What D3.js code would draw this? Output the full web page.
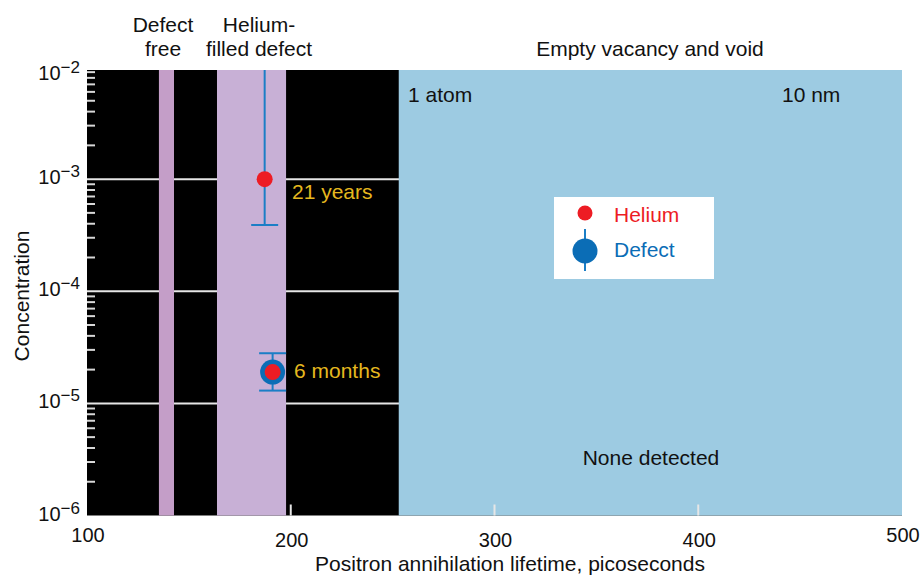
<!DOCTYPE html>
<html>
<head>
<meta charset="utf-8">
<script src="https://cdn.jsdelivr.net/npm/d3@7"></script>
<style>
html,body{margin:0;padding:0;background:#fff;}
svg{display:block;font-family:"Liberation Sans",Arial,sans-serif;}
</style>
</head>
<body>
<svg id="chart" width="923" height="576"></svg>
<script>
// ---- data ----
const xTicks = [100, 200, 300, 400, 500];
const yDecades = [-2, -3, -4, -5, -6];
// regions along lifetime axis (ps)
const regionNames = ["Defect free", "Helium-filled defect", "Empty vacancy and void"];
const regionStart = [135.3, 163.8, 253];
const regionEnd = [142.7, 197.7, 500];
// measured points
const pointLabels = ["21 years", "6 months"];
const heliumX = [187.2, 191.1];
const heliumY = [1.0e-3, 1.9e-5];
const defectX = [187.2, 191.1];
const defectY = [null, 1.9e-5];
const errLow = [3.9e-4, 1.3e-5];
const errHigh = [1.0e-2, 2.8e-5];
const legendItems = ["Helium", "Defect"];

// ---- layout ----
const svg = d3.select("#chart");
const plotLeft = 87, plotRight = 902, plotTop = 70, plotBottom = 515.5;
const x = d3.scaleLinear().domain([100, 500]).range([plotLeft, plotRight]);
const y = d3.scaleLog().domain([1e-6, 1e-2]).range([515.5, 67]);

const red = "#ed1c24", blue = "#0b6db6", errBlue = "#1b7ec6", gold = "#e5b81f";
const regionColors = ["#c49ec8", "#c8b0d6", "#9dcbe2"];
const FS = 21, TFS = 20;

// background
svg.append("rect").attr("x", plotLeft).attr("y", plotTop)
  .attr("width", plotRight - plotLeft).attr("height", plotBottom - plotTop)
  .attr("fill", "#000");

// grid lines at decades
const g = svg.append("g");
yDecades.slice(1, 4).forEach(d => {
  g.append("line").attr("x1", plotLeft).attr("x2", plotRight)
    .attr("y1", y(Math.pow(10, d))).attr("y2", y(Math.pow(10, d)))
    .attr("stroke", "#e6e6e6").attr("stroke-width", 2);
});

// minor ticks
const minor = [];
[-3, -4, -5, -6].forEach(d => {
  for (let m = 2; m <= 9; m++) minor.push(m * Math.pow(10, d));
});
g.selectAll("line.minor").data(minor).join("line").attr("class", "minor")
  .attr("x1", plotLeft).attr("x2", plotLeft + 8)
  .attr("y1", d => y(d)).attr("y2", d => y(d))
  .attr("stroke", "#d8d8d8").attr("stroke-width", 2);

// region bands
svg.selectAll("rect.band").data(regionNames).join("rect").attr("class", "band")
  .attr("x", (d, i) => x(regionStart[i]))
  .attr("width", (d, i) => x(regionEnd[i]) - x(regionStart[i]))
  .attr("y", plotTop).attr("height", plotBottom - plotTop)
  .attr("fill", (d, i) => regionColors[i]);

// bottom x ticks inside plot
svg.selectAll("line.xt").data(xTicks.slice(1, 4)).join("line").attr("class", "xt")
  .attr("x1", d => x(d)).attr("x2", d => x(d))
  .attr("y1", plotBottom).attr("y2", plotBottom - 11)
  .attr("stroke", "#e6e6e6").attr("stroke-width", 2);

// x tick labels
svg.selectAll("text.xl").data(xTicks).join("text").attr("class", "xl")
  .attr("x", d => x(d) + 1)
  .attr("y", (d, i) => (i === 0 || i === xTicks.length - 1) ? 542 : 547)
  .attr("text-anchor", "middle").attr("font-size", TFS).attr("fill", "#111")
  .text(d => d);

// y tick labels
yDecades.forEach(d => {
  const t = svg.append("text").attr("x", 80).attr("y", Math.max(y(Math.pow(10, d)) + 5, 80))
    .attr("text-anchor", "end").attr("font-size", TFS).attr("fill", "#111");
  t.append("tspan").text("10");
  t.append("tspan").attr("dy", -7).attr("font-size", 17).text("\u2212" + Math.abs(d));
});

// axis titles
svg.append("text").attr("x", 510).attr("y", 571).attr("text-anchor", "middle")
  .attr("font-size", FS).attr("fill", "#111")
  .text("Positron annihilation lifetime, picoseconds");
svg.append("text").attr("transform", "translate(29,296) rotate(-90)")
  .attr("text-anchor", "middle").attr("font-size", FS).attr("fill", "#111")
  .text("Concentration");

// region headers
const hdr = [
  { lines: ["Defect", "free"], cx: 163 },
  { lines: ["Helium-", "filled defect"], cx: 259 },
  { lines: ["Empty vacancy and void"], cx: 650 }
];
hdr.forEach(h => {
  const n = h.lines.length;
  h.lines.forEach((l, i) => {
    svg.append("text").attr("x", h.cx).attr("y", 56 - (n - 1 - i) * 24)
      .attr("text-anchor", "middle").attr("font-size", FS).attr("fill", "#111").text(l);
  });
});

// annotations in blue region
svg.append("text").attr("x", 408).attr("y", 102).attr("font-size", FS).attr("fill", "#111").text("1 atom");
svg.append("text").attr("x", 782).attr("y", 102).attr("font-size", FS).attr("fill", "#111").text("10 nm");
svg.append("text").attr("x", 651).attr("y", 465).attr("text-anchor", "middle")
  .attr("font-size", FS).attr("fill", "#111").text("None detected");

// error bars
const clipTop = plotTop;
pointLabels.forEach((lab, i) => {
  const px = x(defectX[i]);
  const yTop = Math.max(y(errHigh[i]), clipTop);
  svg.append("line").attr("x1", px).attr("x2", px)
    .attr("y1", yTop).attr("y2", y(errLow[i]))
    .attr("stroke", errBlue).attr("stroke-width", 2);
  svg.append("line").attr("x1", px - 13.5).attr("x2", px + 13.5)
    .attr("y1", y(errLow[i])).attr("y2", y(errLow[i]))
    .attr("stroke", errBlue).attr("stroke-width", 2);
  if (y(errHigh[i]) > clipTop) {
    svg.append("line").attr("x1", px - 13.5).attr("x2", px + 13.5)
      .attr("y1", y(errHigh[i])).attr("y2", y(errHigh[i]))
      .attr("stroke", errBlue).attr("stroke-width", 2);
  }
});

// defect points
svg.selectAll("circle.def").data(defectY.map((v, i) => ({ v, i })).filter(d => d.v !== null))
  .join("circle").attr("class", "def")
  .attr("cx", d => x(defectX[d.i])).attr("cy", d => y(d.v)).attr("r", 12.5)
  .attr("fill", blue);

// helium points
svg.selectAll("circle.he").data(heliumY).join("circle").attr("class", "he")
  .attr("cx", (d, i) => x(heliumX[i])).attr("cy", d => y(d)).attr("r", 8)
  .attr("fill", red);

// point labels
svg.selectAll("text.pl").data(pointLabels).join("text").attr("class", "pl")
  .attr("x", (d, i) => i === 0 ? 292 : 294)
  .attr("y", (d, i) => i === 0 ? 199 : 378)
  .attr("font-size", FS).attr("fill", gold).text(d => d);

// legend
const lg = svg.append("g");
lg.append("rect").attr("x", 554).attr("y", 197).attr("width", 160).attr("height", 82).attr("fill", "#fff");
lg.append("circle").attr("cx", 585).attr("cy", 213).attr("r", 7.5).attr("fill", red);
lg.append("line").attr("x1", 585).attr("x2", 585).attr("y1", 229).attr("y2", 271)
  .attr("stroke", errBlue).attr("stroke-width", 2);
lg.append("circle").attr("cx", 585).attr("cy", 251).attr("r", 12.5).attr("fill", blue);
lg.append("text").attr("x", 614).attr("y", 222).attr("font-size", FS).attr("fill", red).text(legendItems[0]);
lg.append("text").attr("x", 614).attr("y", 257).attr("font-size", FS).attr("fill", blue).text(legendItems[1]);
</script>
</body>
</html>
